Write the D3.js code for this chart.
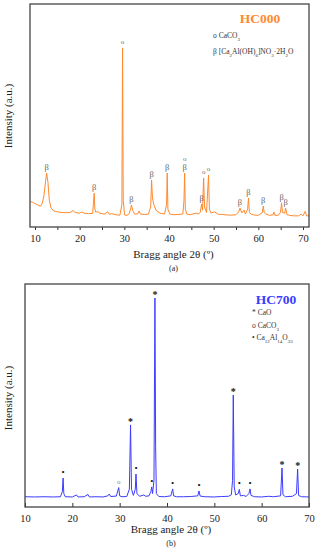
<html>
<head>
	<title>xrd</title>
	<style>
		body { margin: 0; background: #fff; }
	</style>
</head>
<body>
<div id="dataviz"></div>

<script src="https://d3js.org/d3.v7.min.js"></script>
<script>

	//HC000 pattern, [2theta, intensity] (intensity in % of frame height)
	var hc000 = [
		[8.9,11.5],[9.5,11.0],[10.5,10.0],[11.2,9.3],[11.6,10.5],[12.0,14],[12.4,21],[12.6,24.2],[12.9,20],[13.2,12],[13.6,8.5],
		[14.2,7.2],[15,6.8],[16,6.5],[17,6.4],[18,6.6],[18.5,7.4],[19,6.5],[20,6.2],[20.5,6.8],[21,6.2],[22,6.0],[22.9,6.1],
		[23.1,11],[23.25,15.2],[23.4,8],[23.6,6.6],[24,7.0],[24.5,6.2],[25.5,5.8],[26.3,6.8],[26.6,5.7],[27.2,6.0],[28,5.5],
		[29,5.3],[29.45,10],[29.6,80.3],[29.75,12],[30.05,5.4],[30.6,5.2],[31.1,6.0],[31.45,8.5],[31.6,9.9],[31.85,7.5],
		[32.3,5.8],[33,5.9],[33.3,7.2],[33.6,5.8],[34.5,5.6],[35.4,5.8],[35.9,9],[36.1,21.1],[36.3,13],[36.6,10],[37.1,7.5],
		[38,6.2],[39,5.8],[39.45,10],[39.6,24.2],[39.75,8],[40.2,5.8],[41,5.5],[42,5.6],[43.1,5.8],[43.35,12],[43.5,24.2],
		[43.65,8],[44,5.8],[44.8,5.5],[45.6,6.0],[46.2,6.2],[46.5,5.8],[47.0,6.5],[47.3,10.3],[47.5,7.5],[47.75,22],
		[47.95,9],[48.4,6.5],[48.85,23.3],[49.05,8],[49.4,6.3],[50.2,6.8],[51,5.7],[52,5.6],[53,5.4],[54,5.3],[55,5.5],
		[55.6,6.8],[55.9,8.5],[56.3,6.3],[56.8,7.6],[57.1,5.8],[57.6,8],[57.8,13],[58,6.5],[58.5,5.6],[59,5.4],[60,5.2],
		[60.9,6.5],[61.1,9.4],[61.3,6.5],[61.7,5.8],[62.5,5.2],[63.3,5.5],[63.5,6.7],[63.7,5.2],[64.5,5.3],[64.95,6.5],
		[65.2,10.8],[65.4,6.5],[65.9,6.2],[66.1,8.5],[66.4,5.6],[67,5.2],[68,5.0],[69,5.0],[69.6,5.8],[70,5.0],[70.5,7.0],
		[70.8,5.0],[71.3,5.0]
	];

	//HC700 pattern
	var hc700 = [
		[10,4.6],[12,4.5],[14,4.6],[16,4.5],[17.5,4.6],[17.9,7],[18.05,13],[18.2,6],[18.5,4.6],[20,4.5],[20.9,5.4],[21.2,4.5],
		[22.5,4.6],[23.3,5.6],[23.6,4.5],[25,4.6],[26.5,4.5],[27.5,5.0],[27.8,5.8],[28.1,4.7],[29.3,4.9],[29.8,8.7],[30.0,5],
		[30.5,4.6],[31.5,4.7],[32.05,8],[32.3,36.8],[32.5,8],[32.9,5.2],[33.3,8],[33.45,14.8],[33.65,6],[34.2,4.8],[35.1,5.4],
		[35.5,4.8],[36.2,5],[36.6,7],[36.77,9],[36.95,6],[37.25,12],[37.45,93.7],[37.6,27],[37.75,6],[38.3,4.7],[39.5,4.6],
		[40.8,5],[41.2,8.1],[41.4,5],[42,4.6],[43.5,4.6],[45,4.7],[46.5,5],[46.76,7.2],[47.0,4.9],[48,4.6],[50,4.5],[51.5,4.7],
		[53.0,4.8],[53.6,5.5],[53.85,12],[54.0,50.2],[54.2,9],[54.5,5.4],[55.05,6],[55.28,7.9],[55.5,5],[56.2,5.2],[56.7,4.7],
		[57.3,6],[57.54,8.1],[57.75,5.2],[58.5,4.6],[60,4.5],[61.5,4.8],[62.5,4.6],[64.0,5],[64.3,17.5],[64.5,5.5],[65,4.6],
		[66.5,4.8],[67.35,6],[67.6,17],[67.8,5.2],[68.4,4.6],[70,4.5]
	];

	//peak markers, [2theta, symbol]
	var hc000Marks = [
		[12.6,'β'],[23.25,'β'],[29.6,'o'],[31.6,'β'],[36.1,'β'],[39.6,'β'],[43.5,'β'],[43.5,'o'],
		[47.3,'β'],[47.75,'o'],[48.85,'o'],[55.9,'β'],[57.8,'β'],[61.1,'β'],[65.2,'β'],[66.1,'β']
	];
	var hc700Marks = [
		[18.05,'•'],[29.8,'o'],[32.3,'*'],[33.45,'•'],[36.77,'•'],[37.45,'*'],[41.2,'•'],[46.76,'•'],
		[54.0,'*'],[55.28,'•'],[57.54,'•'],[64.3,'*'],[67.6,'*']
	];

	//legends
	var hc000Legend = [['o','CaCO<tspan baseline-shift="sub" font-size="5">3</tspan>'],
		['β','[Ca<tspan baseline-shift="sub" font-size="5">2</tspan>Al(OH)<tspan baseline-shift="sub" font-size="5">6</tspan>]NO<tspan baseline-shift="sub" font-size="5">3</tspan>·2H<tspan baseline-shift="sub" font-size="5">2</tspan>O']];
	var hc700Legend = [['*','CaO'],['o','CaCO<tspan baseline-shift="sub" font-size="5">3</tspan>'],
		['•','Ca<tspan baseline-shift="sub" font-size="5">12</tspan>Al<tspan baseline-shift="sub" font-size="5">14</tspan>O<tspan baseline-shift="sub" font-size="5">33</tspan>']];

	var xTicks = [10,20,30,40,50,60,70];
	var serif = '"Liberation Serif", "Times New Roman", serif';

	var svg = d3.select('#dataviz').append('svg').attr('width',320).attr('height',550)
		.style('font-family', serif);

	function panel(o){
		var x = d3.scaleLinear().domain(o.xDomain).range([o.left,o.right]);
		var y = d3.scaleLinear().domain([0,100]).range([o.bottom,o.top]);
		var g = svg.append('g');

		//axis with ticks
		var axis = d3.axisBottom(x).tickValues(xTicks).tickFormat(d3.format('d'))
			.tickSize(o.tickIn ? -4 : 3).tickPadding(o.tickIn ? 8 : 5);
		var ax = g.append('g').attr('transform','translate(0,'+o.bottom+')').call(axis);
		ax.attr('font-family', null);
		ax.select('.domain').remove();
		ax.selectAll('line').attr('stroke','#333');
		ax.selectAll('text').attr('font-size',10.5).attr('fill','#222').style('font-family', serif);
		if(o.minor){
			g.append('g').attr('transform','translate(0,'+o.bottom+')')
				.call(d3.axisBottom(x).tickValues([15,25,35,45,55,65]).tickSize(3).tickFormat(''))
				.call(function(s){ s.select('.domain').remove(); s.selectAll('line').attr('stroke','#333'); });
		}

		//pattern line
		var line = d3.line().x(function(d){return x(d[0])}).y(function(d){return y(d[1])});
		g.append('path').datum(o.data).attr('d',line).attr('fill','none')
			.attr('stroke',o.color).attr('stroke-width',1).attr('stroke-linejoin','round');

		//peak markers stacked above the peak top
		var seen = {};
		o.marks.forEach(function(m){
			var near = o.data.filter(function(d){return Math.abs(d[0]-m[0]) < 0.35});
			var top = d3.max(near, function(d){return d[1]});
			var k = seen[m[0]] || 0;
			seen[m[0]] = k + 1;
			var sym = m[1];
			var t = g.append('text').attr('x',x(m[0])).attr('y',y(top) - 3 - k*8)
				.attr('text-anchor','middle').attr('fill',o.markColor).text(sym);
			if(sym == 'o'){ t.attr('font-size',7).attr('dy',-1); }
			else if(sym == '*'){ t.attr('font-size',10).attr('font-weight','bold').attr('dy',3).attr('fill','#111'); }
			else if(sym == '•'){ t.attr('font-size',9).attr('fill','#111'); }
			else { t.attr('font-size',8.5); }
		});

		//frame
		g.append('rect').attr('x',o.left).attr('y',o.top).attr('width',o.right-o.left).attr('height',o.bottom-o.top)
			.attr('fill','none').attr('stroke','#444').attr('stroke-width',1.3);

		//titles
		g.append('text').attr('x',o.titleX).attr('y',o.titleY).attr('text-anchor','middle')
			.attr('font-size',13.5).attr('font-weight','bold').attr('fill',o.color).text(o.title);
		o.legend.forEach(function(l,i){
			var t = g.append('text').attr('x',o.legX).attr('y',o.legY + i*o.legStep)
				.attr('font-size',7.5).attr('fill','#333');
			t.html('<tspan>'+l[0]+'</tspan> '+l[1]);
		});

		//axis labels
		g.append('text').attr('x',(o.left+o.right)/2 + 4).attr('y',o.bottom+o.xTitleOff).attr('text-anchor','middle')
			.attr('font-size',11).attr('fill','#222').text('Bragg angle 2θ (º)');
		g.append('text').attr('x',(o.left+o.right)/2 + 4).attr('y',o.bottom+o.subOff).attr('text-anchor','middle')
			.attr('font-size',8).attr('fill','#222').text(o.sub);
		g.append('text').attr('transform','translate(12,'+o.yLabelY+') rotate(-90)').attr('text-anchor','middle')
			.attr('font-size',11).attr('fill','#222').text('Intensity (a.u.)');
	}

	panel({
		data: hc000, marks: hc000Marks, legend: hc000Legend, xDomain: [8.88,71.34],
		left: 30, right: 309, top: 4, bottom: 227, color: '#ff8a2e', markColor: '#666',
		title: 'HC000', titleX: 260, titleY: 23, legX: 213, legY: 38, legStep: 16,
		sub: '(a)', yLabelY: 116, minor: true, tickIn: false, xTitleOff: 31, subOff: 44
	});

	panel({
		data: hc700, marks: hc700Marks, legend: hc700Legend, xDomain: [10,70],
		left: 25, right: 309, top: 284, bottom: 507, color: '#3b3bff', markColor: '#777',
		title: 'HC700', titleX: 276, titleY: 304, legX: 252, legY: 315, legStep: 12.5,
		sub: '(b)', yLabelY: 398, minor: false, tickIn: true, xTitleOff: 26, subOff: 39
	});

</script>
</body>
</html>
